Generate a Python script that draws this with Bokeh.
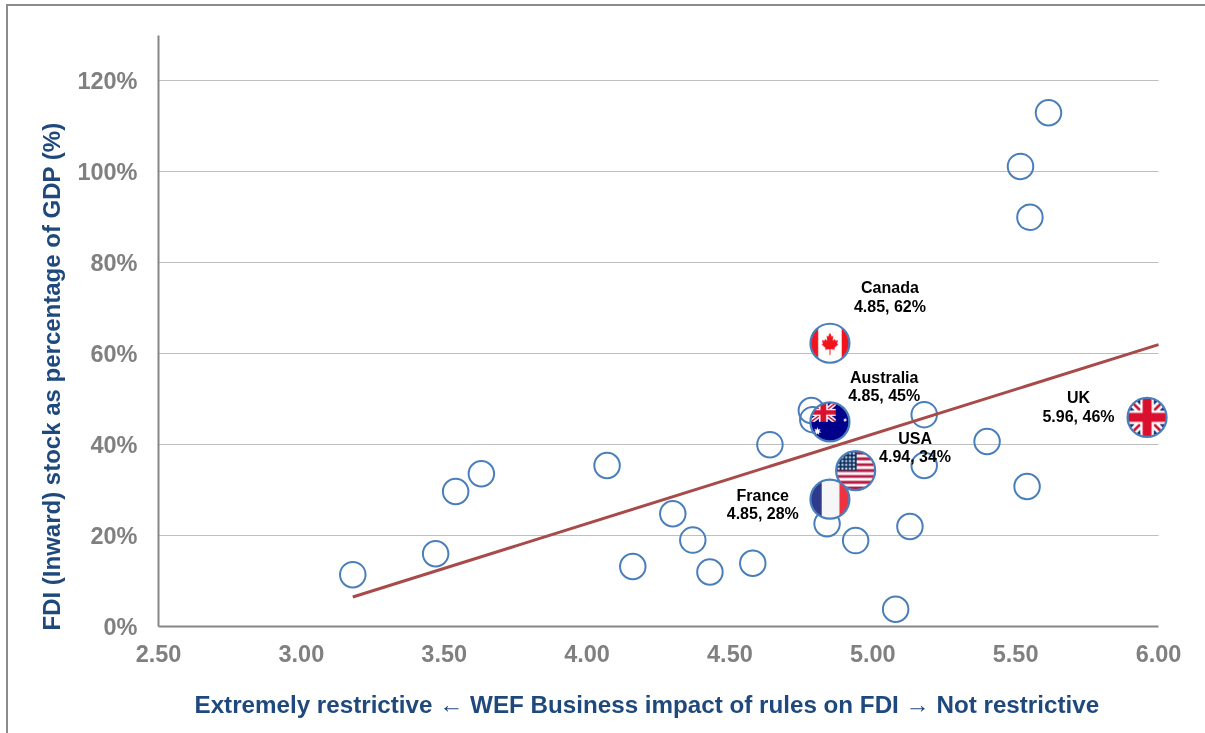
import numpy as np
from bokeh.plotting import figure
from bokeh.models import ColumnDataSource, FixedTicker, Title
from bokeh.core.properties import value
from bokeh.embed import file_html
from bokeh.resources import INLINE

wef_score = [5.615, 5.517, 5.55, 5.40, 5.54, 5.18, 5.18, 5.13, 4.94, 4.84, 5.08, 4.785,
             4.79, 4.64, 4.58, 4.43, 4.37, 4.30, 4.16, 4.07, 3.63, 3.54, 3.47, 3.18]
fdi_pct = [113, 101.2, 90, 40.7, 30.8, 46.6, 35.4, 22, 18.9, 22.6, 3.8, 47.5,
           45.5, 40, 13.9, 12, 19, 24.8, 13.2, 35.4, 33.6, 29.7, 16, 11.4]
flag_names = ["Canada", "Australia", "USA", "France", "UK"]
flag_score = [4.85, 4.85, 4.94, 4.85, 5.96]
flag_fdi = [62.3, 45, 34.3, 28, 46]
label_names = ["Canada", "Australia", "USA", "France", "UK"]
label_values = ["4.85, 62%", "4.85, 45%", "4.94, 34%", "4.85, 28%", "5.96, 46%"]
label_score = [5.06, 5.04, 5.148, 4.615, 5.72]
label_fdi1 = [74.5, 54.8, 41.3, 28.8, 50.3]
label_fdi2 = [70.3, 50.8, 37.4, 24.8, 46.2]
trend_x = [3.18, 6.0]
trend_y = [6.5, 62]
x_ticks = [2.5, 3, 3.5, 4, 4.5, 5, 5.5, 6]
x_tick_labels = ["2.50", "3.00", "3.50", "4.00", "4.50", "5.00", "5.50", "6.00"]
y_ticks = [0, 20, 40, 60, 80, 100, 120]
y_tick_labels = ["0%", "20%", "40%", "60%", "80%", "100%", "120%"]
x_title = "Extremely restrictive  \u2190 WEF Business impact of rules on FDI \u2192 Not restrictive"
y_title = "FDI (Inward) stock as percentage of GDP (%)"


def hexrgb(h):
    return np.array([int(h[i:i + 2], 16) for i in (1, 3, 5)], dtype=float)


def in_poly(u, v, pts):
    inside = np.zeros(u.shape, bool)
    n = len(pts)
    for i in range(n):
        x0, y0 = pts[i]
        x1, y1 = pts[(i + 1) % n]
        cond = ((y0 > v) != (y1 > v)) & (u < (x1 - x0) * (v - y0) / (y1 - y0 + 1e-12) + x0)
        inside ^= cond
    return inside


def star(u, v, cu, cv, r):
    pts = []
    for k in range(14):
        a = np.pi / 2 + k * np.pi / 7
        rr = r if k % 2 == 0 else r * 0.45
        pts.append((cu + rr * np.cos(a), cv + rr * np.sin(a)))
    return in_poly(u, v, pts)


def union(img, u, v, blue="#0B2A7A"):
    img[:] = hexrgb(blue)
    d1, d2 = np.abs(u - v), np.abs(u + v)
    img[(d1 < 0.30) | (d2 < 0.30)] = hexrgb("#FFFFFF")
    img[(d1 < 0.10) | (d2 < 0.10)] = hexrgb("#C8102E")
    img[(np.abs(u) < 0.36) | (np.abs(v) < 0.36)] = hexrgb("#FFFFFF")
    img[(np.abs(u) < 0.24) | (np.abs(v) < 0.24)] = hexrgb("#D9102E")


def flag_pixels(name, n=38, ss=4):
    m = n * ss
    c = (np.arange(m) + 0.5) / m * 2 - 1
    u, v = np.meshgrid(c, c)
    img = np.zeros((m, m, 3))
    if name == "France":
        img[:] = hexrgb("#F6F6F8")
        img[u < -0.44] = hexrgb("#2E3A8C")
        img[u > 0.5] = hexrgb("#EE3340")
    elif name == "Canada":
        img[:] = hexrgb("#FFFFFF")
        img[np.abs(u) > 0.62] = hexrgb("#F0141E")
        leaf = [(0, .68), (.12, .42), (.22, .48), (.17, .14), (.3, .27), (.36, .16), (.52, .2),
                (.45, -.02), (.54, -.08), (.28, -.3), (.32, -.42), (.03, -.38), (.03, -.75),
                (-.03, -.75), (-.03, -.38), (-.32, -.42), (-.28, -.3), (-.54, -.08), (-.45, -.02),
                (-.52, .2), (-.36, .16), (-.3, .27), (-.17, .14), (-.22, .48), (-.12, .42)]
        leaf = [(a * 0.82, b * 0.82) for a, b in leaf]
        img[in_poly(u, v, leaf)] = hexrgb("#F0141E")
    elif name == "USA":
        img[:] = hexrgb("#FFFFFF")
        band = np.floor((v + 1) / 2 * 13).astype(int)
        img[band % 2 == 0] = hexrgb("#B31942")
        can = (u < 0.05) & (v > 0)
        img[can] = hexrgb("#0A3161")
        su, sv = np.mod((u + 1) * 5, 1) - 0.5, np.mod((v + 1) * 5, 1) - 0.5
        img[can & (su ** 2 + sv ** 2 < 0.08)] = hexrgb("#FFFFFF")
    elif name == "Australia":
        img[:] = hexrgb("#00008B")
        box = (u < 0.3) & (v > 0)
        uu, vv = (u + 0.35) / 0.65, (v - 0.5) / 0.5
        tmp = np.zeros_like(img)
        union(tmp, uu, vv, "#00008B")
        img[box] = tmp[box]
        for cu, cv, r in [(-0.66, -0.5, .22), (.8, .1, .11)]:
            img[star(u, v, cu, cv, r)] = hexrgb("#FFFFFF")
    else:
        union(img, u, v)
    img = img.reshape(n, ss, n, ss, 3).mean(axis=(1, 3))
    cc = (np.arange(n) + 0.5) / n * 2 - 1
    uu, vv = np.meshgrid(cc, cc)
    rgba = np.zeros((n, n, 4), dtype=np.uint8)
    rgba[..., :3] = img.round().astype(np.uint8)
    rgba[..., 3] = (uu ** 2 + vv ** 2 <= 1.03) * 255
    return rgba.view(dtype=np.uint32).reshape(n, n)


p = figure(width=1199, height=736, x_range=(2.5, 6.112), y_range=(0, 130),
           output_backend="svg", toolbar_location=None,
           min_border_left=150, min_border_right=17, min_border_top=29, min_border_bottom=116,
           background_fill_color="white", border_fill_color="white", outline_line_color=None)
p.styles = {"position": "fixed", "left": "6px", "top": "4px",
            "border-left": "2px solid #8C8C8C", "border-top": "2px solid #8C8C8C"}

GRAY = "#868686"
BLUE = "#1F497D"
for ax in (p.xaxis[0], p.yaxis[0]):
    ax.axis_line_color = GRAY
    ax.axis_line_width = 2
    ax.major_tick_line_color = None
    ax.minor_tick_line_color = None
    ax.major_label_text_color = "#808080"
    ax.major_label_text_font = "Liberation Sans"
    ax.major_label_text_font_style = "bold"
    ax.major_label_text_font_size = "23.5px"

p.xaxis[0].ticker = FixedTicker(ticks=x_ticks)
p.xaxis[0].major_label_overrides = dict(zip(x_ticks, x_tick_labels))
p.xaxis[0].major_label_standoff = 12
p.xaxis[0].bounds = (2.5, 6.0)

p.yaxis[0].ticker = FixedTicker(ticks=y_ticks)
p.yaxis[0].major_label_overrides = dict(zip(y_ticks, y_tick_labels))
p.yaxis[0].major_label_standoff = 15

p.xgrid.visible = False
p.ygrid[0].ticker = FixedTicker(ticks=y_ticks[1:])
p.ygrid[0].grid_line_color = "#BFBFBF"
p.ygrid[0].grid_line_width = 1
p.ygrid[0].cross_bounds = (2.5, 6.0)

p.scatter(wef_score, fdi_pct, size=25.5, marker="circle", fill_color=None,
          line_color="#4A7EBB", line_width=2)
p.line(trend_x, trend_y, line_color="#A94A4A", line_width=3)

for name, sx, sy in zip(flag_names, flag_score, flag_fdi):
    p.image_rgba(image=[flag_pixels(name)], x=[sx], y=[sy], dw=[38], dh=[38],
                 dw_units="screen", dh_units="screen", anchor="center")
    p.scatter([sx], [sy], size=39, marker="circle", fill_color=None,
              line_color="#4A7EBB", line_width=2.2)

src = ColumnDataSource(dict(x=label_score, y1=label_fdi1, y2=label_fdi2, n=label_names, v=label_values))
for ycol, tcol in (("y1", "n"), ("y2", "v")):
    p.text(x="x", y=ycol, text=tcol, source=src, text_align="center", text_baseline="middle",
           text_color="#000000", text_font=value("Liberation Sans"), text_font_style="bold",
           text_font_size="16px")

p.add_layout(Title(text=x_title, align="left", offset=36, standoff=48, text_color=BLUE,
                   text_font="Liberation Sans", text_font_style="bold", text_font_size="24.2px"), "below")
p.add_layout(Title(text=y_title, align="left", offset=-4, standoff=19, text_color=BLUE,
                   text_font="Liberation Sans", text_font_style="bold", text_font_size="24px"), "left")

open("out.html", "w").write(file_html(p, INLINE))
